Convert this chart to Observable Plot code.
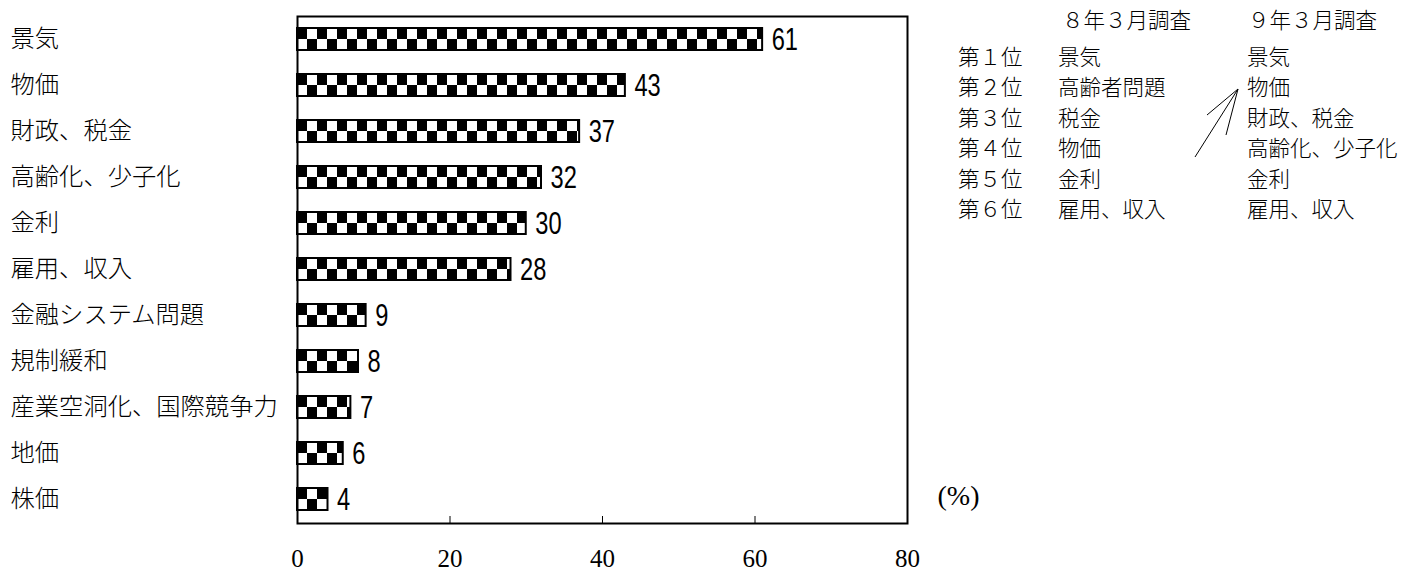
<!DOCTYPE html>
<html><head><meta charset="utf-8">
<script src="https://cdn.jsdelivr.net/npm/d3@7"></script>
<script src="https://cdn.jsdelivr.net/npm/@observablehq/plot@0.6"></script>
<style>
body{margin:0;background:#fff;}
#wrap{position:relative;width:1421px;height:576px;overflow:hidden;background:#fff;}
.lg{position:absolute;font-family:"Noto Sans CJK JP","Noto Sans",sans-serif;font-size:21.5px;line-height:24px;transform:translateY(-50%);white-space:nowrap;color:#000;font-weight:300;}
#arrow{position:absolute;left:0;top:0;}
</style></head><body><div id="wrap"></div>
<script>
const categories = ["景気","物価","財政、税金","高齢化、少子化","金利","雇用、収入","金融システム問題","規制緩和","産業空洞化、国際競争力","地価","株価"];
const values = [61,43,37,32,30,28,9,8,7,6,4];
const xTicks = [0,20,40,60,80];
const innerTicks = [20,40,60];
const unitLabel = "(%)";
const legendHeaders = ["８年３月調査","９年３月調査"];
const ranks = ["第１位","第２位","第３位","第４位","第５位","第６位"];
const survey8 = ["景気","高齢者問題","税金","物価","金利","雇用、収入"];
const survey9 = ["景気","物価","財政、税金","高齢化、少子化","金利","雇用、収入"];

const data = categories.map((c, i) => ({category: c, value: values[i]}));

const W = 1421, H = 576, mL = 297, mR = 514, mT = 16, mB = 53;
const chart = Plot.plot({
  width: W, height: H,
  marginLeft: mL, marginRight: mR, marginTop: mT, marginBottom: mB,
  style: {background: "white", color: "black", overflow: "visible"},
  x: {domain: [0, 80], label: null, axis: null},
  y: {domain: categories, paddingInner: 0.52, paddingOuter: 0.26, label: null, axis: null},
  marks: [
    Plot.barX(data, {x: "value", y: "category", fill: "url(#checker)", stroke: "black", strokeWidth: 2}),
    Plot.tickX(innerTicks, {x: d => d, stroke: "black", strokeWidth: 1, insetTop: H - mT - mB - 7}),
    Plot.frame({stroke: "black", strokeWidth: 2}),
    Plot.axisX(xTicks, {anchor: "bottom", tickSize: 0, tickPadding: 26, fontSize: 25, fontFamily: "Liberation Serif, serif", label: null}),
    Plot.text(data, {x: "value", y: "category", text: d => String(d.value), textAnchor: "start", dx: 9, dy: 0,
      fontSize: 32, fontFamily: "'Liberation Sans',Arial,sans-serif", fill: "black"}),
    Plot.text(data, {y: "category", frameAnchor: "left", dx: -287, text: "category", textAnchor: "start",
      fontSize: 24.3, fontWeight: 300, fontFamily: "'Noto Sans CJK JP','Noto Sans',sans-serif", fill: "black"}),
    Plot.text([unitLabel], {text: d => d, frameAnchor: "bottom-right", dx: 30, dy: -19, textAnchor: "start",
      fontSize: 28, fontFamily: "Liberation Serif, serif", fill: "black"})
  ]
});

// checker pattern aligned to bars
const ys = chart.scale("y"), xs = chart.scale("x");
const bw = ys.bandwidth, st = ys.step;
const y0 = ys.apply(categories[0]);
const cw = 10;
const svg = d3.select(chart);
const pat = svg.insert("defs", ":first-child").append("pattern")
  .attr("id", "checker").attr("patternUnits", "userSpaceOnUse")
  .attr("x", xs.apply(0)).attr("y", y0).attr("width", 2 * cw).attr("height", st);
pat.append("rect").attr("x", 0).attr("y", 0).attr("width", 2 * cw).attr("height", st).attr("fill", "white");
pat.append("rect").attr("x", 0).attr("y", 0).attr("width", cw).attr("height", bw / 2).attr("fill", "black");
pat.append("rect").attr("x", cw).attr("y", bw / 2).attr("width", cw).attr("height", bw / 2).attr("fill", "black");

// condensed value labels
const valueGroup = svg.selectAll('g[aria-label="text"]').nodes()[0];
d3.select(valueGroup).selectAll("text").each(function() {
  const t = this.getAttribute("transform") || "";
  this.setAttribute("transform", t + " scale(0.74,1)");
});

const wrap = document.getElementById("wrap");
wrap.appendChild(chart);

// ranking legend (annotation)
const lgCols = [958, 1058, 1247];
const rowY = i => 56 + 30.4 * i;
function addText(t, x, y) {
  const d = document.createElement("div");
  d.className = "lg"; d.textContent = t;
  d.style.left = x + "px"; d.style.top = y + "px";
  wrap.appendChild(d);
}
addText(legendHeaders[0], 1062, 19);
addText(legendHeaders[1], 1248, 19);
ranks.forEach((r, i) => {
  addText(r, lgCols[0], rowY(i));
  addText(survey8[i], lgCols[1], rowY(i));
  addText(survey9[i], lgCols[2], rowY(i));
});
const ov = d3.select(wrap).append("svg").attr("id", "arrow").attr("width", W).attr("height", H);
const tip = [1238, 89];
[[1195, 157], [1207, 115], [1226, 135]].forEach(p => {
  ov.append("line").attr("x1", p[0]).attr("y1", p[1]).attr("x2", tip[0]).attr("y2", tip[1])
    .attr("stroke", "black").attr("stroke-width", 1);
});
</script></body></html>
